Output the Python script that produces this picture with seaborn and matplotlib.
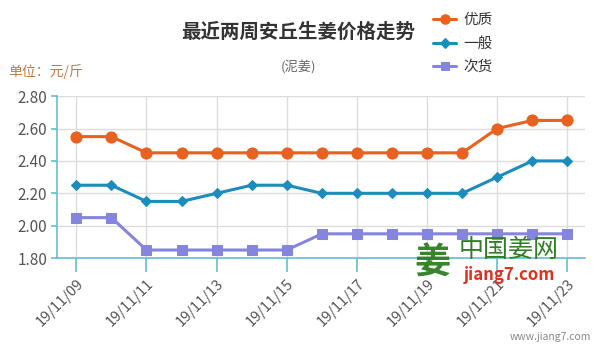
"""Recent two-week Anqiu ginger price trend (line chart)."""
import matplotlib
matplotlib.use("Agg")
import matplotlib.pyplot as plt
import pandas as pd
import seaborn as sns

DATES = ["19/11/09", "19/11/10", "19/11/11", "19/11/12", "19/11/13",
         "19/11/14", "19/11/15", "19/11/16", "19/11/17", "19/11/18",
         "19/11/19", "19/11/20", "19/11/21", "19/11/22", "19/11/23"]
YOUZHI = [2.55, 2.55, 2.45, 2.45, 2.45, 2.45, 2.45, 2.45,
          2.45, 2.45, 2.45, 2.45, 2.60, 2.65, 2.65]
YIBAN = [2.25, 2.25, 2.15, 2.15, 2.20, 2.25, 2.25, 2.20,
         2.20, 2.20, 2.20, 2.20, 2.30, 2.40, 2.40]
CIHUO = [2.05, 2.05, 1.85, 1.85, 1.85, 1.85, 1.85, 1.95,
         1.95, 1.95, 1.95, 1.95, 1.95, 1.95, 1.95]
SERIES = ["优质", "一般", "次货"]
Y_TICKS = [1.80, 2.00, 2.20, 2.40, 2.60, 2.80]

COLORS = {"优质": "#e8611f", "一般": "#1a8dbd", "次货": "#8585de"}
MARKERS = {"优质": "o", "一般": "D", "次货": "s"}
SIZES = {"优质": 8, "一般": 5.5, "次货": 7.5}
AXIS = "#62bfd0"

sns.set_theme(style="white")
plt.rcParams["font.family"] = ["Noto Sans CJK SC", "DejaVu Sans"]

df = pd.DataFrame({"date": DATES, "优质": YOUZHI, "一般": YIBAN, "次货": CIHUO})
df["pos"] = range(len(df))
long = df.melt(id_vars=["date", "pos"], value_vars=SERIES,
               var_name="grade", value_name="price")

fig = plt.figure(figsize=(6, 3.6), dpi=100)
ax = fig.add_axes([0.095, 0.283, 0.88, 0.45])

for name in SERIES:
    sub = long[long["grade"] == name]
    sns.lineplot(data=sub, x="pos", y="price", ax=ax, color=COLORS[name],
                 marker=MARKERS[name], markersize=SIZES[name],
                 markeredgecolor=COLORS[name], linewidth=2.2, label=name,
                 legend=False, zorder=3)

ax.set_xlim(-0.55, len(DATES) - 0.5)
ax.set_ylim(1.80, 2.80)
ax.set_yticks(Y_TICKS)
ax.set_yticklabels([f"{v:.2f}" for v in Y_TICKS])
tick_pos = list(range(0, len(DATES), 2))
ax.set_xticks(tick_pos)
ax.set_xticklabels([DATES[i] for i in tick_pos], rotation=45,
                   ha="right", rotation_mode="anchor")
ax.set_xlabel("")
ax.set_ylabel("")

ax.grid(True, color="#dcdcdc", linewidth=1, zorder=0)
for side in ["top", "right"]:
    ax.spines[side].set_visible(False)
for side in ["left", "bottom"]:
    ax.spines[side].set_color(AXIS)
    ax.spines[side].set_linewidth(1.2)
ax.tick_params(axis="x", length=10, color=AXIS, width=1.2, pad=3,
               labelsize=10.5, labelcolor="#555555", bottom=True)
ax.tick_params(axis="y", length=4, color=AXIS, width=1.2, pad=3,
               labelsize=11, labelcolor="#555555", left=True)

fig.text(0.497, 0.91, "最近两周安丘生姜价格走势", ha="center", va="center",
         fontsize=14, fontweight="bold", color="#333333")
fig.text(0.497, 0.813, "(泥姜)", ha="center", va="center",
         fontsize=9.5, color="#666666")
fig.text(0.013, 0.80, "单位：元/斤", ha="left", va="center",
         fontsize=10, color="#c07a3e")

handles, labels = ax.get_legend_handles_labels()
fig.legend(handles, labels, loc="upper left", bbox_to_anchor=(0.70, 1.0),
           frameon=False, fontsize=10.5, handlelength=1.6, labelspacing=0.65,
           handletextpad=0.5, markerscale=0.85, labelcolor="#333333")

# watermark
fig.text(0.72, 0.27, "姜", ha="center", va="center", fontsize=26,
         fontweight="bold", color="#2f7d24", alpha=0.95)
fig.text(0.848, 0.305, "中国姜网", ha="center", va="center", fontsize=18,
         color="#2f7d24")
fig.text(0.85, 0.235, "jiang7.com", ha="center", va="center", fontsize=12,
         fontweight="bold", fontstyle="italic", color="#e0301e")
fig.text(0.985, 0.065, "www.jiang7.com", ha="right", va="center",
         fontsize=7.5, color="#888888")

fig.savefig("out.png", dpi=100)
